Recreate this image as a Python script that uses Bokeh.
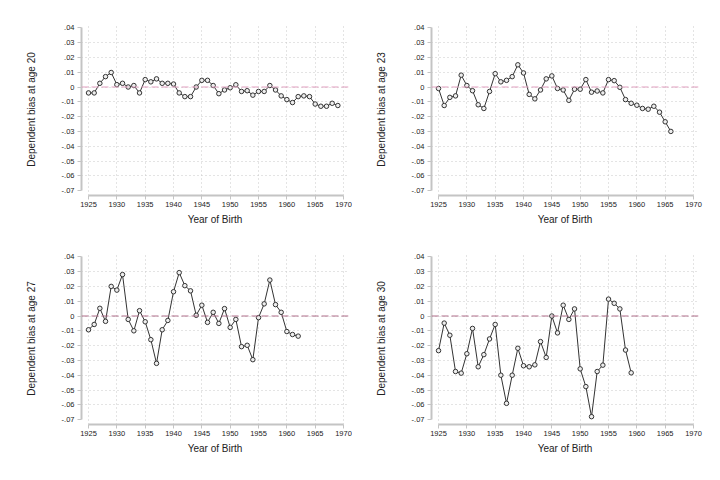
from bokeh.plotting import figure
from bokeh.layouts import gridplot
from bokeh.models import FixedTicker, CustomJSTickFormatter, Span
from bokeh.embed import file_html
from bokeh.resources import INLINE

# ---------------- data ----------------
start_year = 1925
bias_age20 = [-0.004, -0.004, 0.0025, 0.007, 0.0098, 0.0016, 0.0025, 0.0, 0.001, -0.004,
              0.005, 0.0035, 0.0055, 0.0025, 0.0025, 0.002, -0.004, -0.0065, -0.0065, 0.0,
              0.0045, 0.0045, 0.001, -0.0045, -0.002, -0.0005, 0.0015, -0.003, -0.0025, -0.0055,
              -0.003, -0.003, 0.001, -0.002, -0.006, -0.0085, -0.0105, -0.0065, -0.006, -0.0065,
              -0.0115, -0.013, -0.013, -0.011, -0.0125]
bias_age23 = [-0.001, -0.0125, -0.007, -0.006, 0.008, 0.001, -0.0025, -0.012, -0.0145, -0.003,
              0.009, 0.0035, 0.0045, 0.007, 0.015, 0.0095, -0.005, -0.008, -0.002, 0.0055,
              0.0075, -0.001, -0.002, -0.009, -0.0015, -0.0015, 0.005, -0.0035, -0.0027, -0.004,
              0.005, 0.0043, -0.0002, -0.0085, -0.011, -0.0123, -0.0145, -0.015, -0.013, -0.017,
              -0.0235, -0.030]
bias_age27 = [-0.0093, -0.0057, 0.0052, -0.0036, 0.020, 0.0175, 0.028, -0.0023, -0.010, 0.0036,
              -0.0039, -0.016, -0.032, -0.0093, -0.003, 0.0164, 0.0293, 0.0205, 0.017, 0.0005,
              0.0073, -0.0043, 0.0025, -0.005, 0.005, -0.0077, -0.0023, -0.0207, -0.0198, -0.0295,
              -0.0011, 0.0082, 0.0243, 0.0077, 0.0025, -0.0105, -0.0125, -0.0136]
bias_age30 = [-0.0234, -0.0048, -0.013, -0.0375, -0.0386, -0.0255, -0.0084, -0.0343, -0.0261, -0.0155,
              -0.0057, -0.040, -0.059, -0.040, -0.0218, -0.0336, -0.0343, -0.033, -0.0173, -0.028,
              0.0, -0.0114, 0.0073, -0.0023, 0.0048, -0.0357, -0.0477, -0.068, -0.0375, -0.0332,
              0.0114, 0.0086, 0.0048, -0.023, -0.0384]

x_ticks = [1925, 1930, 1935, 1940, 1945, 1950, 1955, 1960, 1965, 1970]
y_ticks = [0.04, 0.03, 0.02, 0.01, 0.0, -0.01, -0.02, -0.03, -0.04, -0.05, -0.06, -0.07]
y_grid = [0.03, 0.02, 0.01, 0.0, -0.01, -0.02, -0.03, -0.04, -0.05, -0.06]

panels = [
    ("Dependent bias at age 20", bias_age20, "#e2a0c0", 23, 37, 81, 4),
    ("Dependent bias at age 23", bias_age23, "#e2a0c0", 23, 37, 79, 6),
    ("Dependent bias at age 27", bias_age27, "#b06e8a", 20, 40, 81, 4),
    ("Dependent bias at age 30", bias_age30, "#b06e8a", 20, 40, 79, 6),
]

FONT = "Liberation Sans"
AX = "#c4c4c4"
TXT = "#222222"

fmt = CustomJSTickFormatter(code="""
if (Math.abs(tick) < 1e-9) return "0";
const s = Math.abs(tick).toFixed(2).replace(/^0/, "");
return (tick < 0 ? "-" : "") + s;
""")

figs = []
for label, vals, refcol, bt, bb, bl, br in panels:
    p = figure(width=352, height=232, output_backend="svg", toolbar_location=None,
               x_range=(1923.76, 1970.88), y_range=(-0.0733, 0.0429),
               min_border_top=bt, min_border_bottom=bb, min_border_left=bl, min_border_right=br)
    p.outline_line_color = None
    p.background_fill_color = "white"
    p.border_fill_color = "white"

    p.xaxis.ticker = FixedTicker(ticks=x_ticks)
    p.yaxis.ticker = FixedTicker(ticks=y_ticks)
    p.yaxis.formatter = fmt
    p.xaxis.bounds = (1925, 1970)
    p.yaxis.bounds = (-0.07, 0.04)

    for ax in (p.xaxis, p.yaxis):
        ax.axis_line_color = AX
        ax.axis_line_width = 2
        ax.major_tick_line_color = AX
        ax.major_tick_line_width = 1
        ax.major_tick_out = 4
        ax.major_tick_in = 0
        ax.minor_tick_line_color = None
        ax.major_label_text_font = FONT
        ax.major_label_text_font_size = "7.5px"
        ax.major_label_text_color = TXT
        ax.axis_label_text_font = FONT
        ax.axis_label_text_font_size = "10px"
        ax.axis_label_text_font_style = "normal"
        ax.axis_label_text_color = TXT
    p.xaxis.major_label_standoff = 2
    p.yaxis.major_label_standoff = 3
    p.xaxis.axis_label = "Year of Birth"
    p.xaxis.axis_label_standoff = 4
    p.yaxis.axis_label = label
    p.yaxis.axis_label_standoff = 22

    p.xgrid.ticker = FixedTicker(ticks=x_ticks)
    p.ygrid.ticker = FixedTicker(ticks=y_grid)
    for g in (p.xgrid, p.ygrid):
        g.grid_line_color = "#c8c8c8"
        g.grid_line_dash = "1 3"
        g.grid_line_width = 1

    p.add_layout(Span(location=0, dimension="width", line_color=refcol,
                      line_dash="7 3", line_width=1.2))

    years = list(range(start_year, start_year + len(vals)))
    p.line(years, vals, line_color="#333333", line_width=1)
    p.scatter(years, vals, marker="circle", size=4.5, fill_color="#eeeeee",
              line_color="#333333", line_width=1)
    figs.append(p)

grid = gridplot([[figs[0], figs[1]], [figs[2], figs[3]]], toolbar_location=None)

open("out.html", "w").write(file_html(grid, INLINE))
